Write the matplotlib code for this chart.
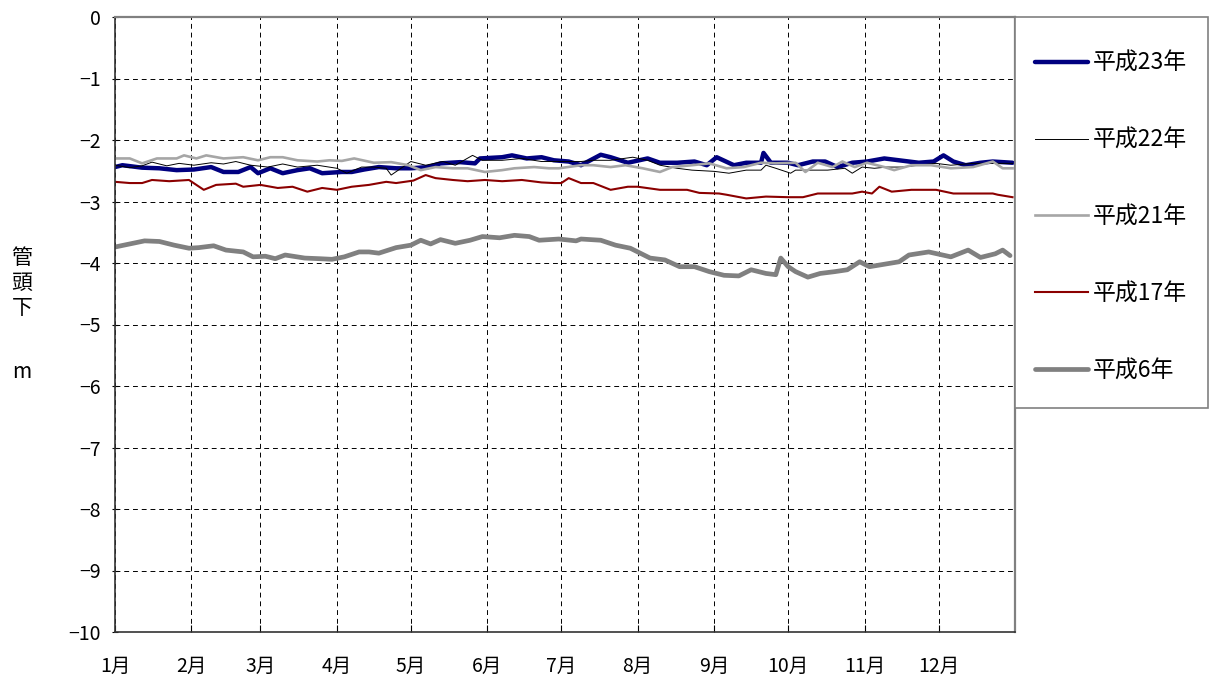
import matplotlib
matplotlib.use('Agg')
import matplotlib.pyplot as plt
from matplotlib.patches import Rectangle

plt.rcParams['font.family'] = ['Noto Sans CJK JP', 'DejaVu Sans']

# month tick positions (day of year) and labels
month_days = [0, 31, 59, 90, 120, 151, 181, 212, 243, 273, 304, 334]
month_labels = ['1月', '2月', '3月', '4月', '5月', '6月', '7月', '8月', '9月', '10月', '11月', '12月']

# 平成23年
h23_days = [0, 3, 11, 18, 25, 32, 39, 44, 50, 55, 58, 63, 68, 74, 79, 84, 92, 96, 101, 107,
            114, 120, 127, 132, 140, 146, 148, 157, 161, 167, 173, 178, 184, 189, 197, 201, 208, 216, 221, 228,
            235, 240, 244, 251, 256, 262, 263, 266, 273, 277, 283, 288, 293, 299, 305, 312, 318, 326, 332, 336,
            340, 345, 351, 356, 364]
h23_vals = [-2.44, -2.41, -2.45, -2.46, -2.49, -2.48, -2.44, -2.52, -2.52, -2.44,
            -2.54, -2.46, -2.54, -2.49, -2.46, -2.54, -2.52, -2.52, -2.48, -2.44,
            -2.46, -2.46, -2.44, -2.38, -2.36, -2.38, -2.30, -2.28, -2.25, -2.30,
            -2.28, -2.33, -2.35, -2.41, -2.24, -2.28, -2.37, -2.30, -2.37, -2.37,
            -2.35, -2.41, -2.28, -2.41, -2.37, -2.37, -2.21, -2.37, -2.37, -2.41,
            -2.35, -2.35, -2.44, -2.37, -2.35, -2.30, -2.33, -2.37, -2.35, -2.25,
            -2.35, -2.41, -2.37, -2.35, -2.37]

# 平成22年
h22_days = [0, 6, 11, 15, 21, 26, 32, 39, 44, 49, 55, 62, 68, 74, 82, 90, 94, 100, 105, 110,
            112, 116, 120, 126, 133, 138, 145, 149, 157, 165, 173, 180, 189, 194, 201, 210, 216, 221, 228, 234,
            243, 249, 256, 262, 264, 268, 274, 276, 283, 289, 296, 299, 303, 308, 313, 319, 326, 333, 339, 348,
            356, 364]
h22_vals = [-2.41, -2.45, -2.42, -2.36, -2.42, -2.38, -2.41, -2.37, -2.39, -2.35,
            -2.41, -2.44, -2.39, -2.44, -2.41, -2.46, -2.54, -2.44, -2.44, -2.46,
            -2.57, -2.46, -2.35, -2.41, -2.35, -2.41, -2.25, -2.33, -2.33, -2.30,
            -2.35, -2.35, -2.35, -2.33, -2.33, -2.28, -2.33, -2.41, -2.46, -2.49,
            -2.51, -2.54, -2.49, -2.49, -2.41, -2.46, -2.54, -2.49, -2.49, -2.49,
            -2.46, -2.54, -2.44, -2.46, -2.44, -2.44, -2.41, -2.38, -2.41, -2.38,
            -2.38, -2.38]

# 平成21年
h21_days = [0, 6, 11, 17, 25, 28, 33, 37, 44, 52, 58, 63, 68, 74, 82, 87, 92, 97, 105, 112,
            119, 124, 130, 137, 143, 150, 157, 162, 170, 176, 180, 189, 194, 201, 207, 214, 221, 226, 234, 241,
            248, 255, 262, 268, 276, 280, 285, 291, 295, 300, 305, 312, 316, 323, 331, 339, 348, 356, 360, 364]
h21_vals = [-2.30, -2.30, -2.38, -2.30, -2.30, -2.25, -2.30, -2.25, -2.30, -2.28,
            -2.33, -2.28, -2.28, -2.33, -2.35, -2.33, -2.34, -2.30, -2.37, -2.36,
            -2.41, -2.49, -2.44, -2.46, -2.46, -2.52, -2.49, -2.46, -2.44, -2.46,
            -2.46, -2.41, -2.41, -2.44, -2.41, -2.46, -2.52, -2.44, -2.41, -2.38,
            -2.46, -2.44, -2.37, -2.38, -2.37, -2.52, -2.37, -2.44, -2.35, -2.44,
            -2.37, -2.44, -2.49, -2.41, -2.41, -2.46, -2.44, -2.35, -2.46, -2.46]

# 平成17年
h17_days = [0, 6, 11, 15, 22, 30, 36, 41, 49, 52, 59, 66, 72, 78, 84, 90, 96, 103, 110, 114,
            121, 126, 130, 137, 143, 150, 157, 165, 173, 178, 181, 184, 189, 194, 201, 208, 212, 221, 232, 237,
            245, 248, 256, 264, 273, 279, 285, 292, 299, 303, 307, 310, 315, 323, 333, 340, 348, 356, 358, 364]
h17_vals = [-2.68, -2.70, -2.70, -2.65, -2.67, -2.65, -2.81, -2.73, -2.71, -2.76,
            -2.73, -2.78, -2.76, -2.84, -2.78, -2.81, -2.76, -2.73, -2.68, -2.70,
            -2.66, -2.57, -2.62, -2.65, -2.67, -2.65, -2.67, -2.65, -2.69, -2.70,
            -2.70, -2.62, -2.70, -2.70, -2.81, -2.76, -2.76, -2.81, -2.81, -2.86,
            -2.87, -2.89, -2.95, -2.92, -2.93, -2.93, -2.87, -2.87, -2.87, -2.84,
            -2.87, -2.76, -2.84, -2.81, -2.81, -2.87, -2.87, -2.87, -2.89, -2.93]

# 平成6年
h6_days = [0, 12, 18, 24, 30, 34, 40, 45, 52, 56, 61, 65, 69, 77, 83, 88, 93, 99, 103, 107,
           114, 120, 124, 128, 132, 138, 144, 149, 156, 162, 168, 172, 180, 187, 189, 197, 203, 209, 213, 217,
           223, 229, 235, 241, 247, 253, 258, 264, 268, 270, 273, 276, 281, 286, 292, 297, 302, 306, 312, 318,
           322, 330, 339, 346, 351, 357, 360, 363]
h6_vals = [-3.74, -3.64, -3.65, -3.71, -3.76, -3.75, -3.72, -3.79, -3.82, -3.90,
           -3.89, -3.93, -3.87, -3.92, -3.93, -3.94, -3.90, -3.82, -3.82, -3.84,
           -3.75, -3.71, -3.63, -3.69, -3.62, -3.68, -3.63, -3.57, -3.59, -3.55,
           -3.57, -3.63, -3.61, -3.64, -3.61, -3.63, -3.71, -3.76, -3.84, -3.92,
           -3.95, -4.06, -4.06, -4.14, -4.20, -4.21, -4.11, -4.17, -4.19, -3.92,
           -4.06, -4.14, -4.23, -4.17, -4.14, -4.11, -3.98, -4.06, -4.02, -3.98,
           -3.87, -3.82, -3.90, -3.79, -3.91, -3.85, -3.79, -3.88]

W, H = 1210, 682
fig = plt.figure(figsize=(W / 100, H / 100), dpi=100)
ax = fig.add_axes([115 / W, 1 - 632 / H, 900 / W, 615 / H])

ax.plot(h23_days, h23_vals, color='#000080', lw=3.2, label='平成23年', solid_capstyle='round')
ax.plot(h22_days, h22_vals, color='black', lw=0.7, label='平成22年')
ax.plot(h21_days, h21_vals, color='#a6a6a6', lw=1.9, label='平成21年')
ax.plot(h17_days, h17_vals, color='#8b0000', lw=1.5, label='平成17年')
ax.plot(h6_days, h6_vals, color='#808080', lw=3.4, label='平成6年', solid_capstyle='round')

ax.set_xlim(0, 365)
ax.set_ylim(-10, 0)
ax.set_yticks(range(-10, 1))
ax.set_xticks(month_days)
ax.set_xticklabels(month_labels)
ax.grid(True, color='black', linestyle=(0, (5, 4)), lw=0.7)
ax.tick_params(axis='y', direction='inout', length=5, labelsize=14, pad=8)
ax.tick_params(axis='x', direction='in', length=5, labelsize=14, pad=17)

for s in ['left', 'bottom']:
    ax.spines[s].set_color('#333333')
    ax.spines[s].set_linewidth(1.2)
for s in ['top', 'right']:
    ax.spines[s].set_color('#808080')
    ax.spines[s].set_linewidth(1.6)

fig.text(22 / W, 1 - 283 / H, '管\n頭\n下', fontsize=15, ha='center', va='center',
         linespacing=1.15)
fig.text(22 / W, 1 - 372 / H, 'm', fontsize=15, ha='center', va='center')

# legend frame
fig.patches.append(Rectangle((1015 / W, 1 - 408 / H), 193 / W, 391 / H,
                             transform=fig.transFigure, facecolor='white',
                             edgecolor='#808080', lw=1.2))
fig.legend(loc='center left', bbox_to_anchor=(1026 / W, 1 - 217 / H), frameon=False,
           fontsize=16.5, labelspacing=2.35, handlelength=2.3, handletextpad=0.2,
           borderaxespad=0)

fig.savefig('out.png', dpi=100)
